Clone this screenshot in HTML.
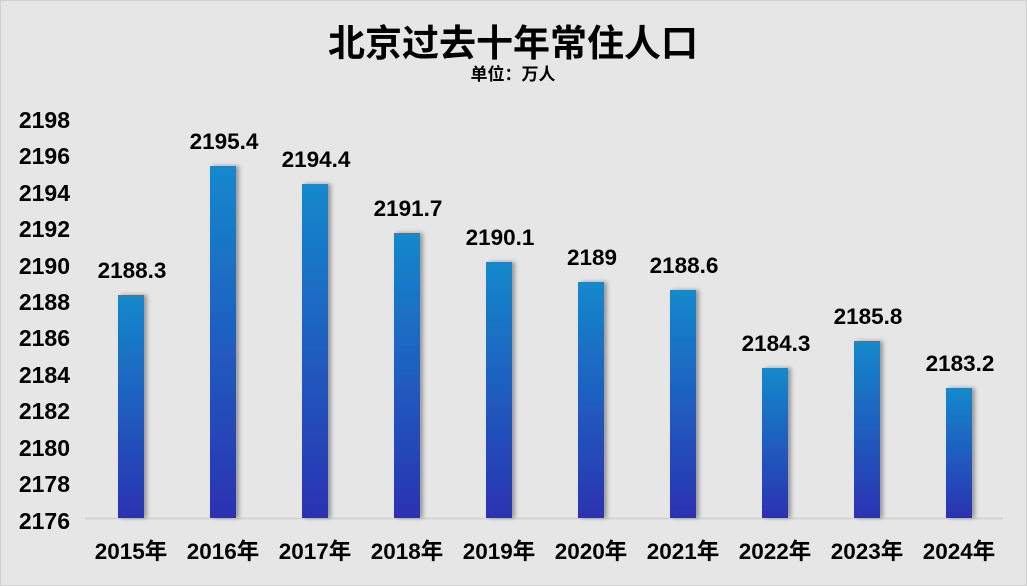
<!DOCTYPE html><html><head><meta charset="utf-8"><style>
body{margin:0;width:1027px;height:586px;background:#e6e6e6;font-family:"Liberation Sans","Noto Sans CJK SC",sans-serif;overflow:hidden}
</style></head><body>
<svg width="1027" height="586" xmlns="http://www.w3.org/2000/svg" style="position:absolute;left:0;top:0">
<defs><linearGradient id="g" x1="0" y1="0" x2="0" y2="1"><stop offset="0" stop-color="#1489cc"/><stop offset="1" stop-color="#2b32b2"/></linearGradient>
<filter id="s" x="-20%" y="-5%" width="160%" height="110%"><feDropShadow dx="3" dy="0" stdDeviation="2" flood-color="#000" flood-opacity="0.35"/></filter></defs>
<rect x="0.5" y="0.5" width="1026" height="585" fill="#e6e6e6" stroke="#d0d0d0"/>
<text x="513" y="56" text-anchor="middle" font-size="37" font-weight="bold" fill="#000">北京过去十年常住人口</text>
<text x="513" y="80" text-anchor="middle" font-size="17" font-weight="bold" fill="#000">单位：万人</text>
<g font-size="23" font-weight="bold" text-anchor="end" fill="#000">
<text x="70" y="128">2198</text><text x="70" y="164">2196</text><text x="70" y="201">2194</text><text x="70" y="237">2192</text><text x="70" y="274">2190</text><text x="70" y="310">2188</text><text x="70" y="346">2186</text><text x="70" y="383">2184</text><text x="70" y="419">2182</text><text x="70" y="456">2180</text><text x="70" y="492">2178</text><text x="70" y="529">2176</text>
</g>
<line x1="85" y1="518.5" x2="1003" y2="518.5" stroke="#d4d4d4" stroke-width="2"/>
<g fill="url(#g)" filter="url(#s)">
<rect x="118" y="295" width="26" height="223"/>
<rect x="210" y="166" width="26" height="352"/>
<rect x="302" y="184" width="26" height="334"/>
<rect x="394" y="233" width="26" height="285"/>
<rect x="486" y="262" width="26" height="256"/>
<rect x="578" y="282" width="26" height="236"/>
<rect x="670" y="290" width="26" height="228"/>
<rect x="762" y="368" width="26" height="150"/>
<rect x="854" y="341" width="26" height="177"/>
<rect x="946" y="388" width="26" height="130"/>
</g>
<g font-size="22.5" font-weight="bold" text-anchor="middle" fill="#000">
<text x="132" y="278">2188.3</text><text x="224" y="149">2195.4</text><text x="316" y="167">2194.4</text><text x="408" y="216">2191.7</text><text x="500" y="245">2190.1</text><text x="592" y="265">2189</text><text x="684" y="273">2188.6</text><text x="776" y="351">2184.3</text><text x="868" y="324">2185.8</text><text x="960" y="371">2183.2</text>
</g>
<g font-size="22.5" font-weight="bold" text-anchor="middle" fill="#000">
<text x="131" y="559">2015年</text><text x="223" y="559">2016年</text><text x="315" y="559">2017年</text><text x="407" y="559">2018年</text><text x="499" y="559">2019年</text><text x="591" y="559">2020年</text><text x="683" y="559">2021年</text><text x="775" y="559">2022年</text><text x="867" y="559">2023年</text><text x="959" y="559">2024年</text>
</g>
</svg>
</body></html>
